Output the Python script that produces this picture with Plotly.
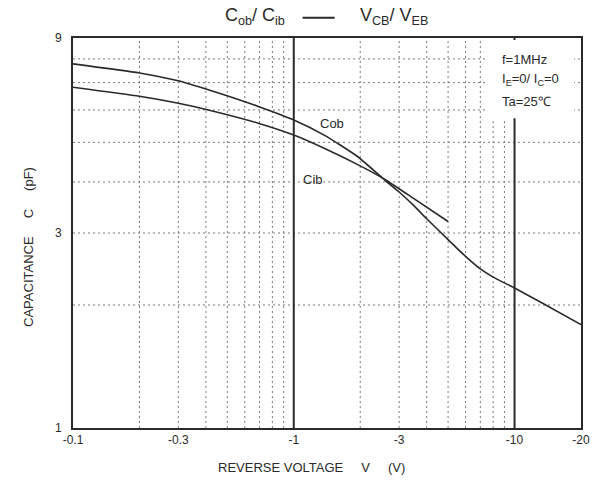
import plotly.graph_objects as go

# Reverse voltage magnitudes (V) and capacitance (pF)
cob_v = [0.1, 0.2, 0.3, 0.41, 0.69, 1.0, 1.38, 1.95, 2.6, 3.0, 3.5, 4.0, 5.0, 6.0, 7.0, 8.0, 10, 13.4, 20]
cob_c = [7.78, 7.39, 7.07, 6.72, 6.12, 5.67, 5.2, 4.61, 4.03, 3.78, 3.5, 3.25, 2.89, 2.63, 2.45, 2.34, 2.2, 2.02, 1.79]
cib_v = [0.1, 0.2, 0.3, 0.41, 0.69, 1.0, 1.38, 1.95, 2.6, 3.5, 5.0]
cib_c = [6.82, 6.48, 6.23, 6.0, 5.57, 5.21, 4.83, 4.41, 4.05, 3.64, 3.2]

x_ticks = [0.1, 0.3, 1, 3, 10, 20]
x_ticktext = ["-0.1", "-0.3", "-1", "-3", "-10", "-20"]
y_ticks = [1, 3, 9]
y_ticktext = ["1", "3", "9"]

x_grid = [0.2, 0.3, 0.4, 0.5, 0.6, 0.7, 0.8, 0.9, 2, 3, 4, 5, 6, 7, 8, 9]
x_solid = [1, 10]
y_grid = [2, 3, 4, 5, 6, 7, 8]

X_MIN, X_MAX = 0.1, 20
Y_MIN, Y_MAX = 1, 9

INK = "#2a2a2a"
GRID = "#7a7a7a"
FONT = "Liberation Sans, Arial, sans-serif"

fig = go.Figure()

line_style = dict(color=INK, width=1.6, shape="spline", smoothing=0.5)
fig.add_trace(go.Scatter(x=cob_v, y=cob_c, mode="lines", line=line_style, name="Cob", showlegend=False))
fig.add_trace(go.Scatter(x=cib_v, y=cib_c, mode="lines", line=line_style, name="Cib", showlegend=False))

shapes = []
for gx in x_grid:
    shapes.append(dict(type="line", xref="x", yref="y", x0=gx, x1=gx, y0=Y_MIN, y1=Y_MAX,
                       line=dict(color=GRID, width=1, dash="2px,3px"), layer="below"))
for gy in y_grid:
    shapes.append(dict(type="line", xref="x", yref="y", x0=X_MIN, x1=X_MAX, y0=gy, y1=gy,
                       line=dict(color=GRID, width=1, dash="2px,3px"), layer="below"))
for sx in x_solid:
    shapes.append(dict(type="line", xref="x", yref="y", x0=sx, x1=sx, y0=Y_MIN, y1=Y_MAX,
                       line=dict(color=INK, width=2), layer="below"))
# blank panel behind the test-condition text
shapes.append(dict(type="rect", xref="x", yref="y", x0=7.45, x1=18.6, y0=5.73, y1=8.9,
                   fillcolor="white", line=dict(width=0), layer="below"))
# dash between the two parts of the heading
shapes.append(dict(type="line", xref="paper", yref="paper", x0=0.452, x1=0.515, y0=1.052, y1=1.052,
                   line=dict(color=INK, width=2)))

# annotation positions on log axes are given in log10 units
annotations = [
    dict(text="C<sub>ob</sub>/ C<sub>ib</sub>", xref="paper", yref="paper", x=0.421, y=1.055,
         xanchor="right", yanchor="middle", showarrow=False, font=dict(size=18, color=INK, family=FONT)),
    dict(text="V<sub>CB</sub>/ V<sub>EB</sub>", xref="paper", yref="paper", x=0.562, y=1.055,
         xanchor="left", yanchor="middle", showarrow=False, font=dict(size=18, color=INK, family=FONT)),
    dict(text="f=1MHz", xref="x", yref="y", x=0.932, y=0.901, xanchor="left", yanchor="middle",
         showarrow=False, font=dict(size=13, color=INK, family=FONT)),
    dict(text="I<sub>E</sub>=0/ I<sub>C</sub>=0", xref="x", yref="y", x=0.932, y=0.852, xanchor="left",
         yanchor="middle", showarrow=False, font=dict(size=13, color=INK, family=FONT)),
    dict(text="Ta=25℃", xref="x", yref="y", x=0.932, y=0.800, xanchor="left", yanchor="middle",
         showarrow=False, font=dict(size=13, color=INK, family=FONT)),
    dict(text="Cob", x=0.11, y=0.746, xref="x", yref="y", xanchor="left", yanchor="middle",
         showarrow=False, font=dict(size=13, color=INK, family=FONT)),
    dict(text="Cib", x=0.033, y=0.607, xref="x", yref="y", xanchor="left", yanchor="middle",
         showarrow=False, font=dict(size=13, color=INK, family=FONT)),
    dict(text="CAPACITANCE     C     (pF)", xref="paper", yref="paper", x=-0.088, y=0.465,
         xanchor="center", yanchor="middle", textangle=-90, showarrow=False,
         font=dict(size=13, color=INK, family=FONT)),
    dict(text="REVERSE VOLTAGE     V     (V)", xref="paper", yref="paper", x=0.47, y=-0.077,
         xanchor="center", yanchor="top", showarrow=False, font=dict(size=13, color=INK, family=FONT)),
]

fig.update_layout(
    width=602, height=481,
    margin=dict(l=73, r=15, t=38, b=53),
    paper_bgcolor="white", plot_bgcolor="white",
    shapes=shapes, annotations=annotations,
    font=dict(family=FONT, color=INK, size=12),
)
fig.update_xaxes(type="log", range=[-1, 1.30103], tickvals=x_ticks, ticktext=x_ticktext,
                 showgrid=False, zeroline=False, showline=True, linecolor=INK, linewidth=2,
                 mirror=True, ticks="", tickfont=dict(size=12, color=INK, family=FONT))
fig.update_yaxes(type="log", range=[0, 0.9542425], tickvals=y_ticks, ticktext=y_ticktext,
                 showgrid=False, zeroline=False, showline=True, linecolor=INK, linewidth=2,
                 mirror=True, ticks="", ticklabelstandoff=7, tickfont=dict(size=12, color=INK, family=FONT))

fig.write_html("out.html")
